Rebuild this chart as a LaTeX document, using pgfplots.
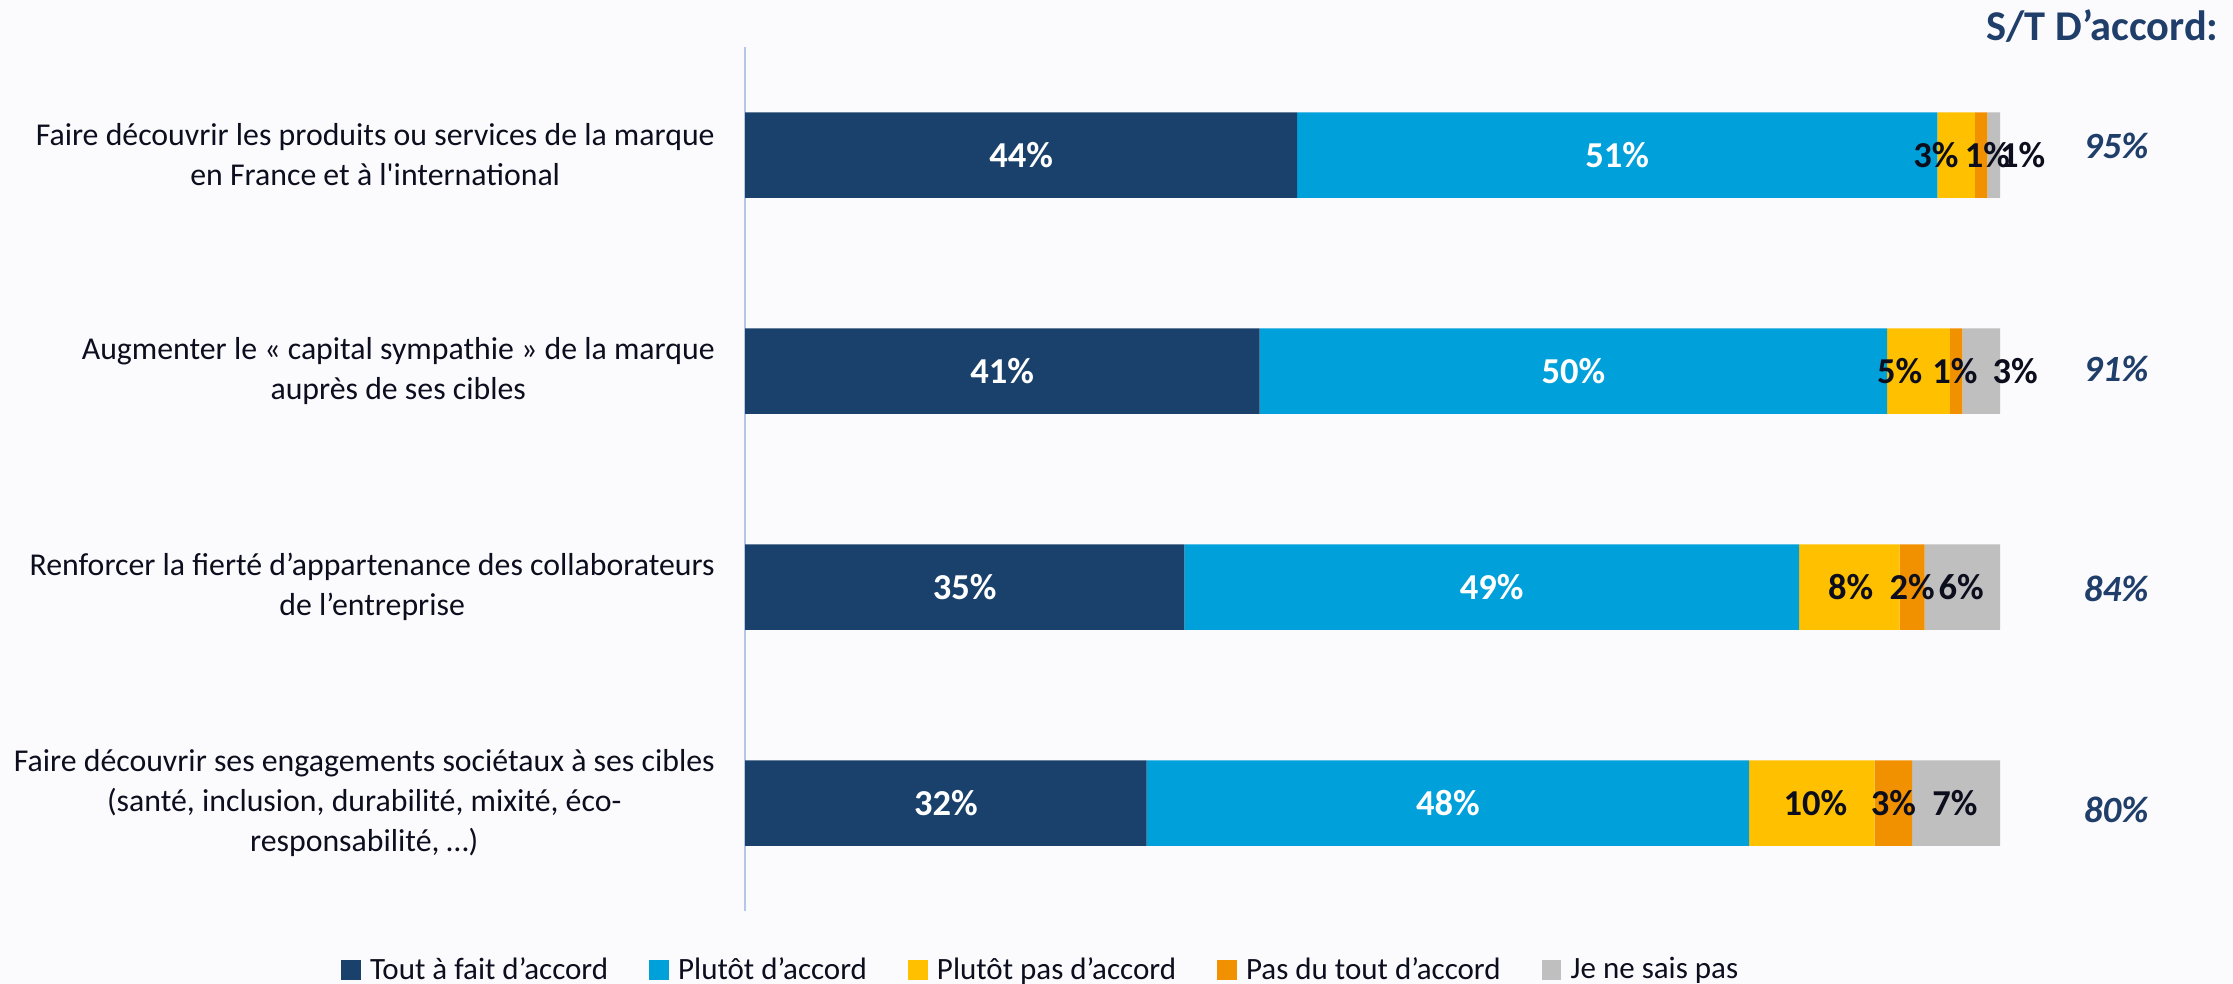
\documentclass[border=0pt]{standalone}
\usepackage{fontspec}
\newfontfamily\carl{Carlito}
\usepackage{pgfplots}
\pgfplotsset{compat=1.18}
\definecolor{c1}{RGB}{26,65,108}
\definecolor{c2}{RGB}{0,160,218}
\definecolor{c3}{RGB}{255,192,0}
\definecolor{c4}{RGB}{242,145,0}
\definecolor{c5}{RGB}{191,191,191}
\definecolor{bg}{RGB}{251,251,254}
\definecolor{axl}{RGB}{180,199,231}
\definecolor{txt}{RGB}{12,14,30}
\definecolor{navy}{RGB}{31,62,106}
\pgfplotsset{mygeom/.style={
  at={(372.5pt,36.5pt)}, anchor=south west, scale only axis,
  width=627.5pt, height=432pt, xmin=0, xmax=100, ymin=-0.5, ymax=3.5,
  y dir=reverse, clip=false}}
\begin{document}
\carl
\begin{tikzpicture}
\path[use as bounding box, fill=bg] (0,0) rectangle (1116.5pt,492pt);
\begin{axis}[mygeom,
  xbar stacked, bar width=42.75pt,
  axis x line=none, axis y line*=left,
  y axis line style={draw=axl, line width=0.75pt},
  ytick={0,1,2,3},
  yticklabels={{Faire découvrir les produits ou services de la marque\\en France et à l'international},
    {Augmenter le « capital sympathie » de la marque\\auprès de ses cibles},
    {Renforcer la fierté d’appartenance des collaborateurs\\de l’entreprise},
    {Faire découvrir ses engagements sociétaux à ses cibles\\(santé, inclusion, durabilité, mixité, éco-\\responsabilité, …)}},
  major tick length=0pt,
  yticklabel style={align=center, font=\fontsize{15.9}{20}\selectfont, text=txt,
    anchor=east, inner sep=0pt, xshift=-15pt},
  legend columns=5,
  legend style={at={(0.236,-0.068)}, anchor=center, draw=none, fill=none,
    font=\fontsize{15.5}{18}\selectfont, text=txt,
    /tikz/every even column/.append style={column sep=19pt},
    nodes={inner sep=1.5pt}, cells={anchor=west}},
  legend image code/.code={\fill[#1] (0pt,-4.9pt) rectangle (9.8pt,4.9pt); \path (13pt,0pt);},
]
\addplot[fill=c1, draw=none] coordinates {(44,0) (41,1) (35,2) (32,3)};
\addlegendentry{Tout à fait d’accord}
\addplot[fill=c2, draw=none] coordinates {(51,0) (50,1) (49,2) (48,3)};
\addlegendentry{Plutôt d’accord}
\addplot[fill=c3, draw=none] coordinates {(3,0) (5,1) (8,2) (10,3)};
\addlegendentry{Plutôt pas d’accord}
\addplot[fill=c4, draw=none] coordinates {(1,0) (1,1) (2,2) (3,3)};
\addlegendentry{Pas du tout d’accord}
\addplot[fill=c5, draw=none] coordinates {(1,0) (3,1) (6,2) (7,3)};
\addlegendentry{Je ne sais pas}
\end{axis}
\begin{axis}[mygeom, hide axis]
\addplot[only marks, mark=*, mark size=0pt, mark options={draw=none, fill=none},
  point meta=explicit symbolic, nodes near coords={\pgfplotspointmeta\%},
  nodes near coords align=center,
  every node near coord/.append style={font=\bfseries\fontsize{18.25}{20}\selectfont, text=white}]
  coordinates {(22,0) [44] (69.5,0) [51] (20.5,1) [41] (66,1) [50]
               (17.5,2) [35] (59.5,2) [49] (16,3) [32] (56,3) [48]};
\addplot[only marks, mark=*, mark size=0pt, mark options={draw=none, fill=none},
  point meta=explicit symbolic, nodes near coords={\pgfplotspointmeta\%},
  nodes near coords align=center,
  every node near coord/.append style={font=\bfseries\fontsize{18.25}{20}\selectfont, text=txt}]
  coordinates {(94.9,0) [3] (99.0,0) [1] (101.8,0) [1]
               (92.0,1) [5] (96.4,1) [1] (101.2,1) [3]
               (88.1,2) [8] (93.0,2) [2] (96.9,2) [6]
               (85.3,3) [10] (91.5,3) [3] (96.4,3) [7]};
\addplot[only marks, mark=*, mark size=0pt, mark options={draw=none, fill=none},
  point meta=explicit symbolic, nodes near coords={\pgfplotspointmeta\%},
  nodes near coords align=center,
  every node near coord/.append style={font=\bfseries\itshape\fontsize{18.5}{20}\selectfont, text=navy}]
  coordinates {(109.25,-0.04) [95] (109.25,0.99) [91] (109.25,2.01) [84] (109.25,3.03) [80]};
\end{axis}
\node[anchor=east, inner sep=0pt, font=\bfseries\fontsize{21.2}{24}\selectfont, text=navy]
  at (1109.5pt,479pt) {S/T D’accord:};
\end{tikzpicture}
\end{document}
